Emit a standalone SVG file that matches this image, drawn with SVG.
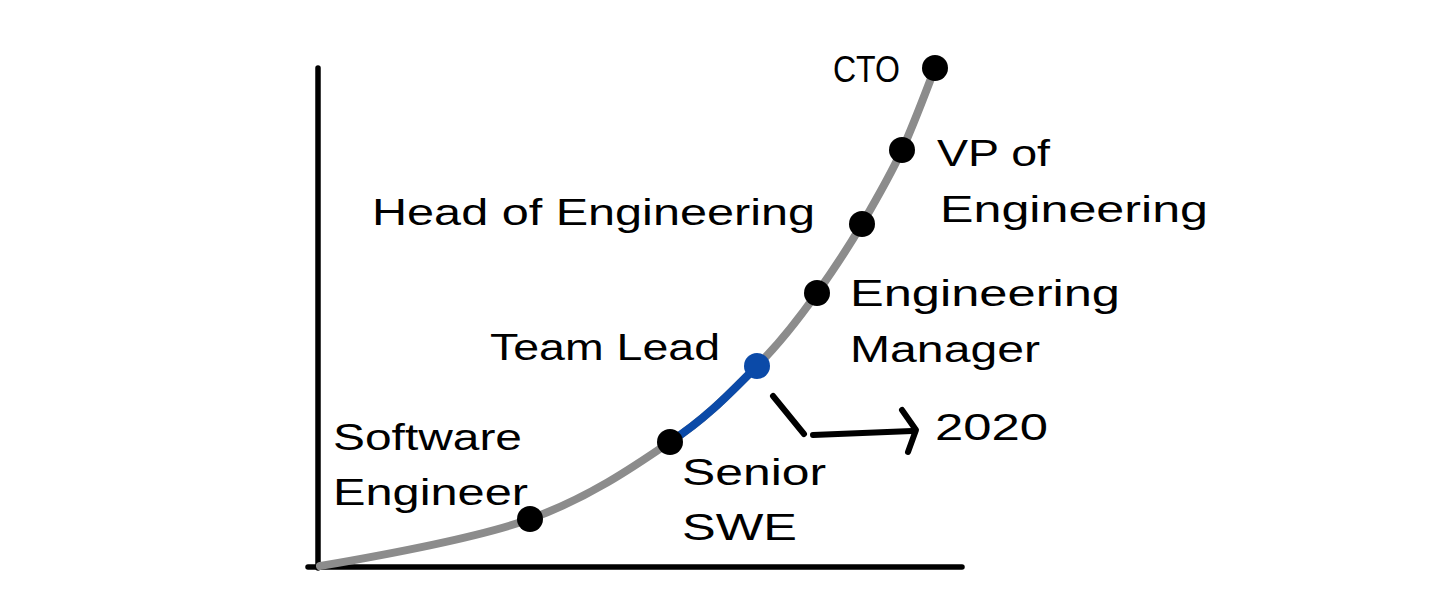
<svg xmlns="http://www.w3.org/2000/svg" width="1456" height="614" viewBox="0 0 1456 614">
<style>
.lbl{font-family:"Liberation Sans","DejaVu Sans",sans-serif;font-size:36px;fill:#000}
.dot{fill:#000}
.axis{stroke:#000;stroke-width:5.5;stroke-linecap:round;fill:none}
.curve{stroke:#8c8c8c;stroke-width:8;fill:none;stroke-linecap:round}
.hl{stroke:#0b4aa8;stroke-width:8;fill:none;stroke-linecap:round}
.arr{stroke:#000;stroke-width:6;fill:none;stroke-linecap:round;stroke-linejoin:round}
</style>
<rect width="1456" height="614" fill="#fff"/>
<g id="connectors">
<path class="axis" d="M318,68 L318,568"/>
<path class="axis" d="M308,567 L962,567"/>
<path class="curve" d="M320,566 C355,560 472,540 530,519 C588,498 632,468 670,442 C708,417 732,391 757,366 C782,341 800,317 817,293 C834,269 848,248 862,224 C876,200 890,176 902,150 C914,124 929.5,82 935,68"/>
<path class="hl" d="M670,442 C708,417 732,391 757,366"/>
<path class="arr" d="M773,396 L804,434"/>
<path class="arr" d="M813,435 L912,431"/>
<path class="arr" d="M902,410 L916,430 L908,452"/>
</g>
<g id="node-swe"><circle class="dot" cx="530" cy="519" r="13"/><text class="lbl" x="333" y="450" textLength="189" lengthAdjust="spacingAndGlyphs">Software</text><text class="lbl" x="333" y="505" textLength="195" lengthAdjust="spacingAndGlyphs">Engineer</text></g>
<g id="node-senior"><circle class="dot" cx="670" cy="442" r="13"/><text class="lbl" x="682" y="485" textLength="144" lengthAdjust="spacingAndGlyphs">Senior</text><text class="lbl" x="682" y="540" textLength="115" lengthAdjust="spacingAndGlyphs">SWE</text></g>
<g id="node-teamlead"><circle cx="757" cy="366" r="13" fill="#0b4aa8"/><text class="lbl" x="490" y="360" textLength="230" lengthAdjust="spacingAndGlyphs">Team Lead</text></g>
<g id="node-em"><circle class="dot" cx="817" cy="293" r="13"/><text class="lbl" x="850" y="306" textLength="270" lengthAdjust="spacingAndGlyphs">Engineering</text><text class="lbl" x="850" y="362" textLength="190" lengthAdjust="spacingAndGlyphs">Manager</text></g>
<g id="node-head"><circle class="dot" cx="862" cy="224" r="13"/><text class="lbl" x="372" y="225" textLength="443" lengthAdjust="spacingAndGlyphs">Head of Engineering</text></g>
<g id="node-vp"><circle class="dot" cx="902" cy="150" r="13"/><text class="lbl" x="937" y="166" textLength="113" lengthAdjust="spacingAndGlyphs">VP of</text><text class="lbl" x="940" y="222" textLength="268" lengthAdjust="spacingAndGlyphs">Engineering</text></g>
<g id="node-cto"><circle class="dot" cx="935" cy="68" r="13"/><text class="lbl" x="833" y="82" textLength="67" lengthAdjust="spacingAndGlyphs">CTO</text></g>
<g id="label-2020"><text class="lbl" x="935" y="440" textLength="113" lengthAdjust="spacingAndGlyphs">2020</text></g>
</svg>
